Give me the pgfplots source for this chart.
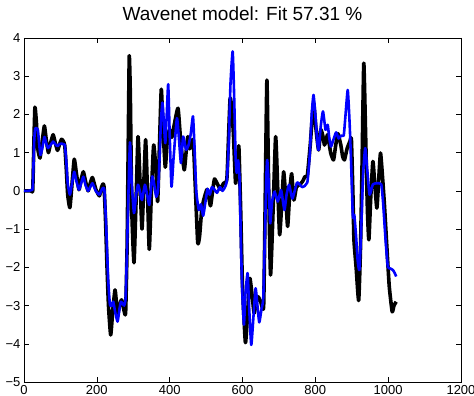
\documentclass[border=0pt]{standalone}
\usepackage{pgfplots}
\pgfplotsset{compat=1.18}
\usepackage{pgfplotstable}
\usepackage{fontspec}
\setmainfont{Liberation Sans}
\pgfplotstableread{
x y
0 0
10 0
20 0
24 0.02
27 1.2
30 2.19
34 1.8
38 1.1
44 0.86
50 1.3
56 1.70
61 1.35
67 1.0
73 1.25
80 1.47
86 1.25
92 1.06
97 1.2
103 1.35
108 1.3
112 1.18
116 0.6
120 -0.1
126 -0.44
132 0.2
138 0.83
144 0.45
151 0.03
157 0.3
163 0.5
169 0.25
176 0.0
182 0.2
188 0.35
197 0.05
207 -0.13
213 0.1
217 0.18
220 0.1
224 -0.8
228 -2.0
232 -3.0
238 -3.77
244 -3.1
250 -2.59
254 -2.95
257 -3.25
262 -3.0
268 -2.85
274 -3.1
279 -3.2
283 -1.5
286 1.0
289 3.53
292 2.5
296 -0.5
302 -1.88
307 -0.5
313 1.42
318 0.4
324 -1.0
329 0.2
334 1.34
339 0.0
344 -1.53
350 0.0
356 1.2
362 0.6
367 -0.28
372 1.2
377 2.66
382 1.6
388 0.62
394 1.4
400 1.6
406 1.4
412 1.7
423 2.16
431 1.2
440 0.55
445 1.0
450 1.42
455 1.1
460 1.3
465 1.3
470 0.2
477 -1.35
482 -1.2
488 -0.5
494 -0.22
503 0.04
512 -0.39
518 0.0
523 0.31
530 0.2
539 0.05
548 0.2
557 0.3
562 1.5
566 2.43
570 2.2
575 1.5
581 0.2
586 0.8
590 1.16
595 -0.5
600 -2.5
608 -3.97
614 -3.2
620 -2.29
626 -2.7
632 -3.2
638 -2.9
643 -2.77
650 -2.9
658 -3.03
662 -0.5
667 2.9
672 0.0
677 -2.2
684 -0.5
691 1.42
697 0.0
702 -1.15
708 -0.3
713 0.5
719 -0.2
724 -0.93
730 0.0
735 0.45
741 -0.24
748 0.1
758 0.17
765 0.25
772 0.38
778 0.4
786 1.2
795 2.3
802 1.6
809 1.07
815 1.6
821 1.42
825 1.2
829 1.3
834 1.47
842 1.0
850 0.81
856 1.2
862 1.5
870 1.2
875 0.9
880 0.81
887 1.1
895 1.3
899 1.35
903 0.0
906 -1.27
912 -2.0
919 -2.87
924 -1.5
928 0.5
933 3.34
938 1.5
943 -0.5
947 -1.28
952 -0.2
958 0.77
963 0.2
969 -0.45
974 0.3
979 0.99
985 0.3
990 -0.4
996 -1.4
1003 -2.5
1011 -3.16
1016 -3.0
1022 -2.9
}\measured
\pgfplotstableread{
x y
0 0
10 0
20 0.02
24 0.1
28 1.3
31 1.64
38 1.6
41 1.3
45 0.94
50 1.1
56 1.41
61 1.25
66 1.12
73 1.2
80 1.29
86 1.22
92 1.17
97 1.22
103 1.24
108 1.22
112 1.2
116 0.8
120 0.2
126 -0.1
132 0.2
138 0.5
144 0.25
151 0.03
157 0.2
163 0.37
169 0.15
176 0.0
182 0.1
188 0.2
197 0.0
207 -0.1
213 0.02
217 0.08
221 0.0
226 -1.0
231 -2.3
236 -2.98
241 -3.0
245 -2.9
251 -3.2
257 -3.42
262 -3.1
266 -2.9
271 -2.95
275 -3.0
279 -2.8
283 -1.5
287 0.0
291 1.27
296 0.2
302 -0.58
308 -0.1
313 0.16
318 0.0
324 -0.24
332 0.16
338 -0.1
344 -0.37
348 0.0
352 0.38
357 0.2
363 -0.15
368 0.0
372 0.8
376 1.8
380 2.31
384 1.8
388 1.25
392 2.0
396 2.79
400 1.5
405 0.11
411 0.9
420 1.9
426 1.3
431 0.73
437 1.42
445 1.08
452 1.2
458 1.5
464 1.95
468 1.2
473 0.0
480 -0.5
486 -0.35
492 -0.65
498 -0.3
504 0.05
510 -0.1
516 0.1
522 0.05
530 -0.05
538 0.1
545 0.0
552 0.1
557 0.27
562 1.2
567 2.8
573 3.65
577 2.5
581 0.9
584 0.47
588 0.8
592 0.3
596 -1.5
600 -2.8
604 -3.5
608 -2.7
614 -2.15
618 -3.0
624 -4.03
630 -3.3
636 -2.55
641 -3.0
646 -3.44
652 -3.1
657 -2.8
662 -1.0
666 0.5
668 0.81
672 0.2
676 -0.85
681 -0.3
688 -0.02
697 -0.28
706 0.02
715 -0.5
721 -0.1
728 0.16
737 -0.2
750 0.22
764 0.1
778 0.22
785 1.0
790 2.0
795 2.51
800 2.0
805 1.3
809 1.07
815 1.7
821 2.08
828 1.6
834 1.73
838 1.4
843 1.16
850 1.35
857 1.53
864 1.37
871 1.45
878 1.45
883 2.0
889 2.64
894 1.8
898 0.81
903 -0.67
907 -0.63
912 -1.2
916 -1.8
921 -2.07
926 -1.0
931 0.4
937 1.12
943 0.5
949 -0.1
958 0.17
970 0.2
981 0.17
986 -0.3
993 -1.3
999 -1.98
1006 -2.03
1013 -2.07
1018 -2.15
1022 -2.24
}\model
\begin{document}
\begin{tikzpicture}
\begin{axis}[
  scale only axis, width=437pt, height=344pt,
  xmin=0, xmax=1200, ymin=-5, ymax=4,
  xtick={0,200,...,1200}, ytick={-5,-4,...,4},
  yticklabels={−5,−4,−3,−2,−1,0,1,2,3,4},
  /pgf/number format/assume math mode=true,
  /pgf/number format/1000 sep={},
  scaled x ticks=false,
  tick align=inside, major tick length=5pt,
  tick style={black, line width=0.5pt},
  axis line style={line width=0.8pt},
  ticklabel style={font=\fontsize{13}{14}\selectfont},
  title={Wavenet model: Fit 57.31 \%},
  title style={font=\fontsize{19}{21}\selectfont, at={(0.5,1)}, anchor=base, yshift=11pt},
]
\addplot[black, line width=3.6pt, line join=round, smooth, tension=0.3] table[x=x,y=y] {\measured};
\addplot[blue, line width=2.6pt, line join=round, smooth, tension=0.3] table[x=x,y=y] {\model};
\end{axis}
\pgfresetboundingbox
\useasboundingbox (current axis.south west) ++(-24pt,-14pt) rectangle ++(474pt,396pt);
\end{tikzpicture}
\end{document}
